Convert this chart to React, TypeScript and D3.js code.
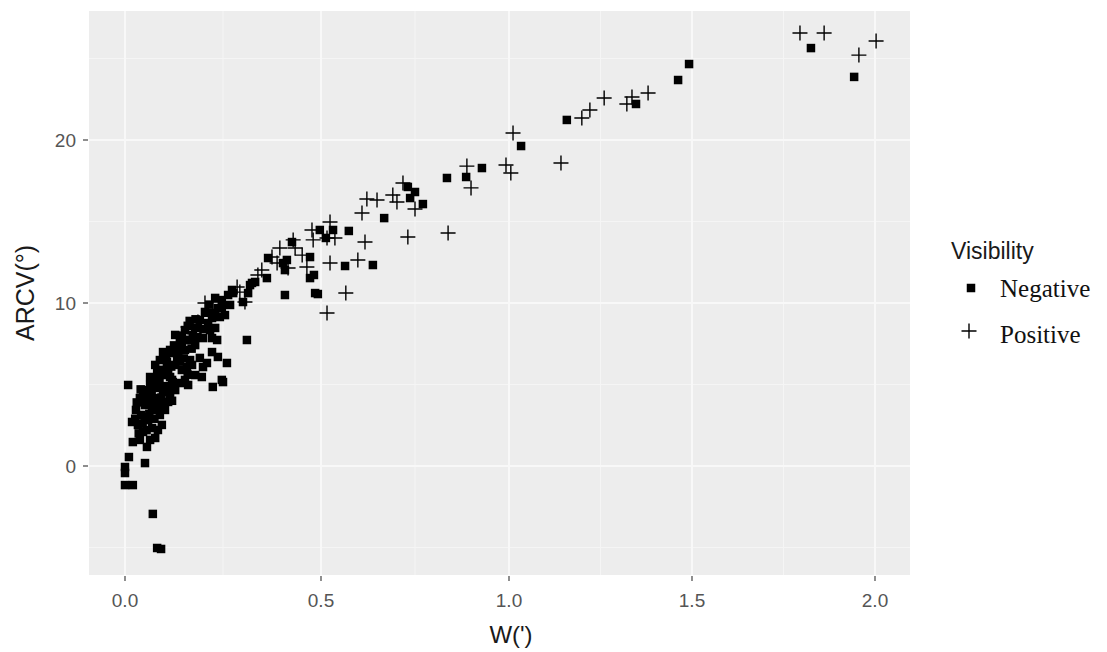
import React from 'react';
import * as d3 from 'd3';

const xTicks = [0, 0.5, 1, 1.5, 2];
const xTickLabels = ['0.0', '0.5', '1.0', '1.5', '2.0'];
const xMinor = [0.25, 0.75, 1.25, 1.75];
const yTicks = [0, 10, 20];
const yTickLabels = ['0', '10', '20'];
const yMinor = [-5, 5, 15, 25];
const xTitle = "W(')";
const yTitle = 'ARCV(°)';
const legendTitle = 'Visibility';
const groups = ['Negative', 'Positive'];

// [W, ARCV]
const negativePoints: [number, number][] = [
  [0.008, 4.97], [0.018, 2.70], [0.020, 1.47], [0.010, 0.55], [0.000, -0.06], [0.000, -0.43],
  [0.000, -1.17], [0.020, -1.17], [0.051, 0.18], [0.071, -2.94], [0.082, -5.03], [0.092, -5.09],
  [0.038, 1.60], [0.046, 2.09], [0.033, 2.52], [0.056, 1.17], [0.064, 1.60], [0.077, 1.72],
  [0.069, 2.33], [0.084, 2.21], [0.094, 2.52], [0.059, 2.82], [0.041, 3.13], [0.028, 3.44],
  [0.051, 3.74], [0.069, 3.44], [0.089, 3.13], [0.102, 3.44], [0.110, 3.93], [0.079, 4.17],
  [0.059, 4.36], [0.038, 4.17], [0.046, 4.66], [0.064, 4.97], [0.084, 4.79], [0.097, 4.54],
  [0.115, 4.36], [0.128, 4.66], [0.120, 5.28], [0.102, 5.58], [0.082, 5.71], [0.064, 5.46],
  [0.077, 6.20], [0.089, 6.50], [0.107, 6.38], [0.128, 6.20], [0.145, 5.89], [0.135, 6.81],
  [0.115, 7.12], [0.097, 6.99], [0.153, 7.12], [0.166, 6.50], [0.179, 5.58], [0.161, 4.97],
  [0.140, 5.09], [0.122, 5.15], [0.196, 5.46], [0.224, 4.85], [0.250, 5.15], [0.260, 6.32],
  [0.235, 7.73], [0.209, 6.32], [0.191, 6.63], [0.158, 6.07], [0.166, 7.73], [0.140, 7.61],
  [0.128, 8.04], [0.153, 8.34], [0.179, 8.47], [0.191, 8.96], [0.204, 9.45], [0.222, 9.08],
  [0.237, 9.69], [0.247, 10.18], [0.230, 10.31], [0.263, 10.49], [0.273, 10.80], [0.268, 9.88],
  [0.255, 9.26], [0.217, 8.34], [0.199, 7.85], [0.179, 7.42], [0.311, 7.73], [0.222, 6.99],
  [0.237, 6.69], [0.199, 6.07], [0.171, 6.20], [0.120, 6.93], [0.133, 6.50], [0.115, 5.46],
  [0.153, 5.28], [0.247, 5.28], [0.324, 11.23], [0.332, 11.29], [0.276, 10.61], [0.301, 10.06],
  [0.247, 9.69], [0.230, 9.39], [0.242, 9.14], [0.186, 8.47], [0.212, 8.77], [0.230, 8.47],
  [0.222, 7.85], [0.158, 7.73], [0.145, 7.42], [0.173, 8.04], [0.365, 12.76], [0.362, 11.53],
  [0.319, 11.10], [0.314, 10.61], [0.030, 3.90], [0.050, 3.00], [0.075, 2.90], [0.090, 3.80],
  [0.100, 4.90], [0.070, 5.20], [0.110, 5.90], [0.060, 4.60],
  [0.035, 2.00], [0.045, 2.60], [0.055, 2.20], [0.062, 3.20], [0.072, 3.90], [0.083, 3.50],
  [0.093, 4.20], [0.052, 4.20], [0.068, 4.50], [0.088, 5.20], [0.095, 5.90], [0.105, 6.70],
  [0.118, 6.10], [0.125, 7.40], [0.138, 7.10], [0.145, 8.00], [0.160, 8.60], [0.170, 7.20],
  [0.185, 7.90], [0.200, 8.40], [0.210, 9.40], [0.215, 9.90], [0.180, 9.00], [0.165, 8.90],
  [0.140, 6.40], [0.150, 6.60], [0.160, 5.60], [0.120, 4.00], [0.108, 4.80], [0.026, 2.90],
  [0.040, 4.70],
  [0.408, 10.49], [0.485, 10.61], [0.492, 10.55], [0.472, 11.53], [0.482, 11.72], [0.403, 12.45],
  [0.413, 12.64], [0.426, 13.74], [0.408, 12.02], [0.472, 12.82], [0.497, 14.48], [0.532, 14.48],
  [0.574, 14.42], [0.564, 12.27], [0.638, 12.33], [0.668, 15.21], [0.731, 17.12], [0.750, 16.81],
  [0.737, 16.44], [0.771, 16.07], [0.835, 17.67], [0.886, 17.73], [0.928, 18.28], [1.033, 19.63],
  [1.158, 21.23], [1.347, 22.21], [1.462, 23.68], [1.492, 24.66], [1.825, 25.64], [1.943, 23.87],
  [0.513, 13.99],
];

const positivePoints: [number, number][] = [
  [0.375, 12.82], [0.388, 12.45], [0.395, 13.37], [0.416, 12.15], [0.429, 13.87], [0.452, 12.94],
  [0.464, 12.21], [0.434, 13.37], [0.477, 14.48], [0.480, 13.87], [0.516, 13.99], [0.537, 13.99],
  [0.524, 14.97], [0.609, 15.52], [0.617, 13.74], [0.524, 12.45], [0.598, 12.64], [0.566, 10.61],
  [0.516, 9.39], [0.622, 16.38], [0.649, 16.32], [0.339, 11.72], [0.349, 12.02], [0.286, 10.98],
  [0.293, 10.67], [0.306, 10.06], [0.224, 10.06], [0.204, 10.00], [0.186, 8.83], [0.161, 8.53],
  [0.718, 17.36], [0.691, 16.63], [0.702, 16.20], [0.750, 15.77], [0.731, 14.05], [0.838, 14.29],
  [0.888, 18.40], [0.899, 17.06], [0.992, 18.47], [1.005, 17.98], [1.011, 20.43], [1.142, 18.59],
  [1.199, 21.35], [1.221, 21.84], [1.260, 22.58], [1.322, 22.21], [1.336, 22.64], [1.380, 22.88],
  [1.795, 26.56], [1.861, 26.56], [1.956, 25.21], [2.003, 26.07],
];

const W = 1107;
const H = 652;
const panel = { left: 89, right: 910, top: 11, bottom: 575 };
const SQ = 8.5;
const PL = 7.5;

function Square({ x, y, s }: { x: number; y: number; s: number }) {
  return <rect x={x - s / 2} y={y - s / 2} width={s} height={s} fill="#000" />;
}
function Plus({ x, y, r }: { x: number; y: number; r: number }) {
  return (
    <path d={`M${x - r},${y}H${x + r}M${x},${y - r}V${y + r}`} stroke="#000" strokeWidth={1.4} fill="none" />
  );
}

export default function App() {
  const x = d3.scaleLinear().domain(xTicks).range([125, 321, 509, 692, 875]);
  const y = d3.scaleLinear().domain([0, 20]).range([466, 140]);
  const sans = '"Liberation Sans", Arial, sans-serif';
  const serif = '"Liberation Serif", "Times New Roman", serif';
  return (
    <svg width={W} height={H} style={{ position: 'absolute', left: 0, top: 0, background: '#fff' }}>
      <rect x={panel.left} y={panel.top} width={panel.right - panel.left} height={panel.bottom - panel.top} fill="#ededed" />
      {xMinor.map((v) => (
        <line key={'xm' + v} x1={x(v)} x2={x(v)} y1={panel.top} y2={panel.bottom} stroke="#f5f5f5" strokeWidth={1} />
      ))}
      {yMinor.map((v) => (
        <line key={'ym' + v} y1={y(v)} y2={y(v)} x1={panel.left} x2={panel.right} stroke="#f5f5f5" strokeWidth={1} />
      ))}
      {xTicks.map((v) => (
        <line key={'xg' + v} x1={x(v)} x2={x(v)} y1={panel.top} y2={panel.bottom} stroke="#f8f8f8" strokeWidth={2} />
      ))}
      {yTicks.map((v) => (
        <line key={'yg' + v} y1={y(v)} y2={y(v)} x1={panel.left} x2={panel.right} stroke="#f8f8f8" strokeWidth={2} />
      ))}
      {negativePoints.map(([a, b], i) => (
        <Square key={'n' + i} x={x(a)} y={y(b)} s={SQ} />
      ))}
      {positivePoints.map(([a, b], i) => (
        <Plus key={'p' + i} x={x(a)} y={y(b)} r={PL} />
      ))}
      {xTicks.map((v, i) => (
        <g key={'xt' + v}>
          <line x1={x(v)} x2={x(v)} y1={panel.bottom + 1} y2={panel.bottom + 6} stroke="#444" strokeWidth={1.2} />
          <text x={x(v)} y={607} textAnchor="middle" fontFamily={sans} fontSize={19} fill="#555">
            {xTickLabels[i]}
          </text>
        </g>
      ))}
      {yTicks.map((v, i) => (
        <g key={'yt' + v}>
          <line x1={panel.left - 6} x2={panel.left - 1} y1={y(v)} y2={y(v)} stroke="#444" strokeWidth={1.2} />
          <text x={76} y={y(v) + 7} textAnchor="end" fontFamily={sans} fontSize={19} fill="#555">
            {yTickLabels[i]}
          </text>
        </g>
      ))}
      <text x={511} y={643} textAnchor="middle" fontFamily={sans} fontSize={24} fill="#1a1a1a">
        {xTitle}
      </text>
      <text transform={`translate(34,${(panel.top + panel.bottom) / 2}) rotate(-90)`} textAnchor="middle" fontFamily={sans} fontSize={25} fill="#1a1a1a">
        {yTitle}
      </text>
      <text x={951} y={259} fontFamily={sans} fontSize={23} fill="#1a1a1a">
        {legendTitle}
      </text>
      <Square x={971} y={288} s={SQ} />
      <text x={1000} y={297} fontFamily={serif} fontSize={25} fill="#111">
        {groups[0]}
      </text>
      <Plus x={969} y={331} r={PL} />
      <text x={1000} y={343} fontFamily={serif} fontSize={25} fill="#111">
        {groups[1]}
      </text>
    </svg>
  );
}
